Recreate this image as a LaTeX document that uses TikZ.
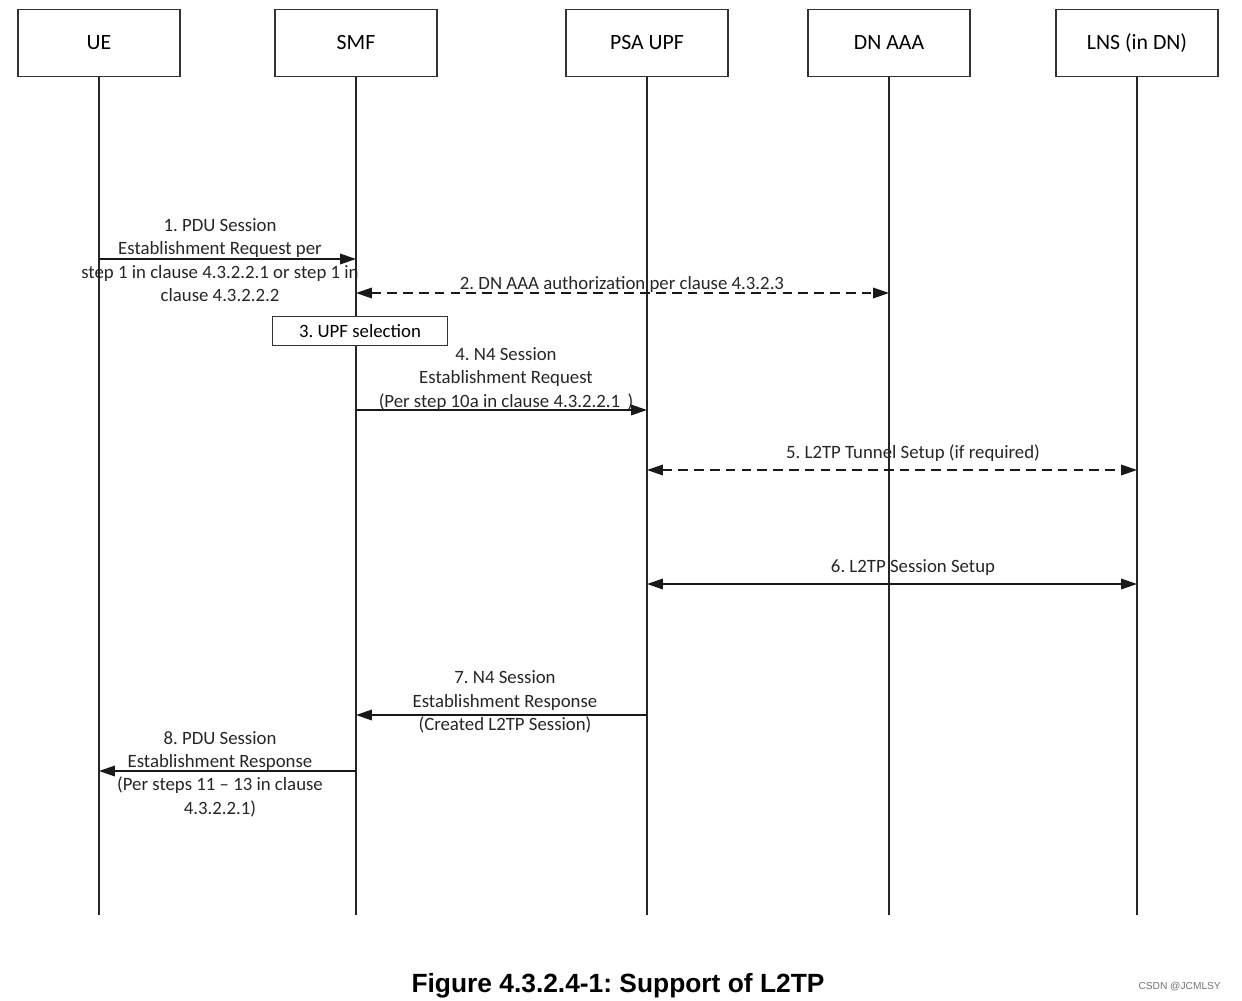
\documentclass[tikz,border=0pt]{standalone}
\usepackage{fontspec}
\setmainfont{Carlito}
\newfontfamily\captionfont{Liberation Sans}
\usetikzlibrary{positioning, arrows.meta}
\frenchspacing

\begin{document}
\begin{tikzpicture}[x=0.02cm, y=-0.02cm, >={Triangle[length=9pt,width=6pt]},
  entity/.style={draw=black!80, line width=0.6pt, minimum width=3.24cm, minimum height=1.34cm, inner sep=0pt, font=\fontsize{12.4}{14}\selectfont},
  life/.style={line width=0.8pt, black!85},
  msg/.style={line width=0.8pt, black!90},
  dmsg/.style={msg, dash pattern=on 5.5pt off 3.5pt},
  lbl/.style={align=center, inner sep=0pt, font=\fontsize{10.7}{13.3}\selectfont, black!85}]
  \useasboundingbox (0,0) rectangle (1242,1001);

  % Entities
  \node[entity] (ue) at (99,43) {UE};
  \node[entity] (smf) at (356,43) {SMF};
  \node[entity] (upf) at (647,43) {PSA UPF};
  \node[entity] (aaa) at (889,43) {DN AAA};
  \node[entity] (lns) at (1137,43) {LNS (in DN)};

  % Lifelines
  \foreach \n in {ue, smf, upf, aaa, lns}
    \draw[life] (\n.south) -- (\n |- 0,915);

  % 1. PDU Session Establishment Request
  \draw[msg, ->] (ue |- 0,259) -- (smf |- 0,259);
  \node[lbl] (l1) at (220,260) {1. PDU Session\\Establishment Request per\\step 1 in clause 4.3.2.2.1 or step 1 in\\clause 4.3.2.2.2};

  % 2. DN AAA authorization
  \draw[dmsg, <->] (smf |- 0,293) -- (aaa |- 0,293);
  \node[lbl] (l2) at (622,284) {2. DN AAA authorization per clause 4.3.2.3};

  % 3. UPF selection
  \node[draw=black!80, fill=white, line width=0.6pt, minimum width=3.5cm, minimum height=0.58cm, inner sep=0pt, font=\fontsize{10.7}{13.3}\selectfont] (sel) at (360,331) {3. UPF selection};

  % 4. N4 Session Establishment Request
  \draw[msg, ->] (smf |- 0,410) -- (upf |- 0,410);
  \node[lbl] (l4) at (506,379) {4. N4 Session\\Establishment Request\\(Per step 10a in clause 4.3.2.2.1 \,)};

  % 5. L2TP Tunnel Setup
  \draw[dmsg, <->] (upf |- 0,470) -- (lns |- 0,470);
  \node[lbl] (l5) at (913,453) {5. L2TP Tunnel Setup (if required)};

  % 6. L2TP Session Setup
  \draw[msg, <->] (upf |- 0,584) -- (lns |- 0,584);
  \node[lbl] (l6) at (913,568) {6. L2TP Session Setup};

  % 7. N4 Session Establishment Response
  \draw[msg, ->] (upf |- 0,715) -- (smf |- 0,715);
  \node[lbl] (l7) at (505,702) {7. N4 Session\\Establishment Response\\(Created L2TP Session)};

  % 8. PDU Session Establishment Response
  \draw[msg, ->] (smf |- 0,771) -- (ue |- 0,771);
  \node[lbl] (l8) at (220,774) {8. PDU Session\\Establishment Response\\(Per steps 11 -- 13 in clause\\4.3.2.2.1)};

  % Caption
  \node[font=\captionfont\bfseries\fontsize{15}{18}\selectfont] (cap) at (618,986) {Figure 4.3.2.4-1: Support of L2TP};
  \node[font=\captionfont\fontsize{5.8}{7}\selectfont, black!55, anchor=east] (wm) at (1227,987) {CSDN @JCMLSY};
\end{tikzpicture}
\end{document}
